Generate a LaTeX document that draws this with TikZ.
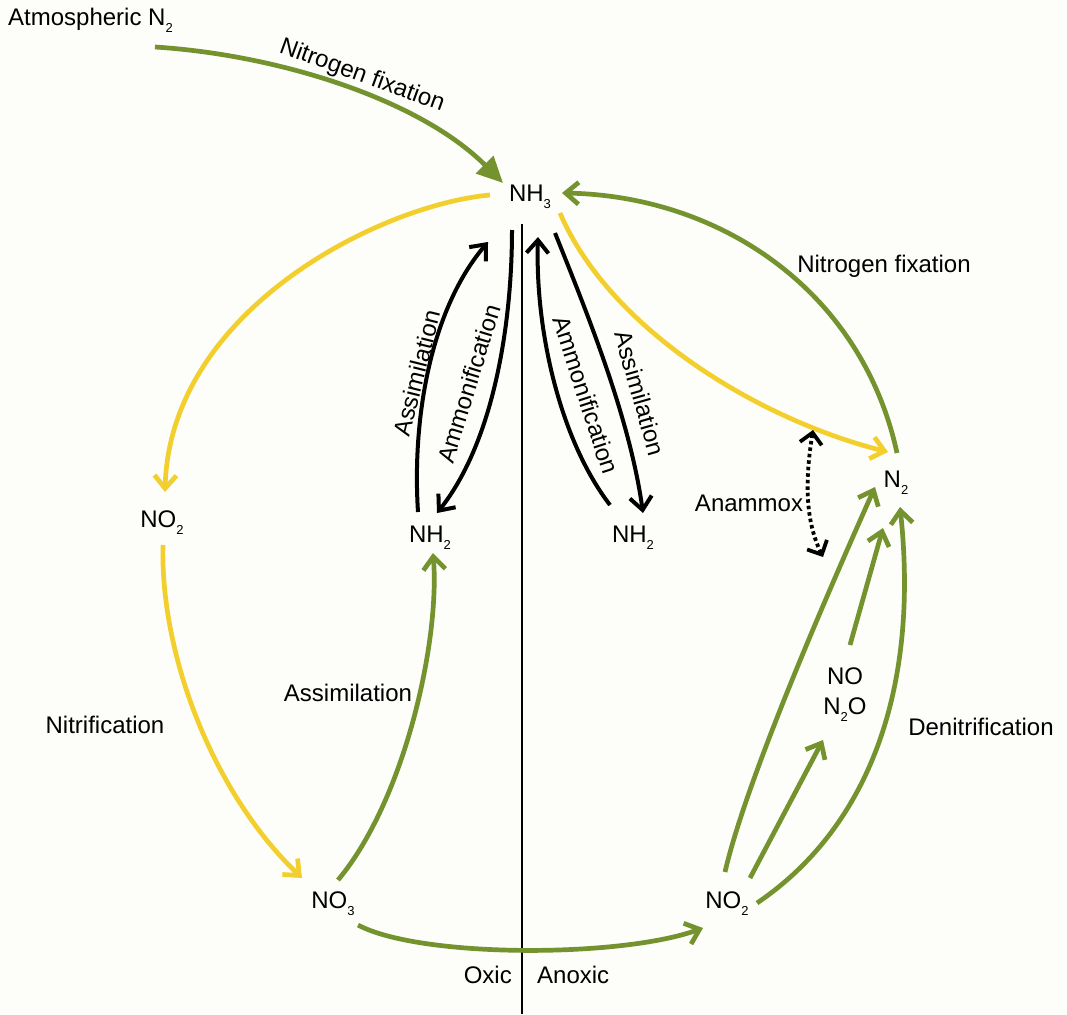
\documentclass[tikz,border=0pt]{standalone}
\usepackage{fontspec}
\setmainfont{Liberation Sans}
\usetikzlibrary{arrows.meta}
\definecolor{bg}{RGB}{253,253,249}
\definecolor{leaf}{RGB}{116,147,46}
\definecolor{sun}{RGB}{242,207,45}
\newcommand{\sbs}[1]{\raisebox{-0.3em}{\fontsize{13}{13}\selectfont #1}}
\begin{document}
\begin{tikzpicture}[x=1pt,y=-1pt,
  lbl/.style={font=\fontsize{24}{30}\selectfont, inner sep=0pt},
  barb/.style={-{Straight Barb[length=13pt,width=22pt]}},
  garrow/.style={draw=leaf, line width=4.7pt, barb},
  yarrow/.style={draw=sun, line width=4.7pt, barb},
  barrow/.style={draw=black, line width=4pt, barb},
  darrow/.style={draw=black, line width=3.8pt, dash pattern=on 3.5pt off 3pt,
     {Straight Barb[length=11pt,width=22pt]}-{Straight Barb[length=11pt,width=22pt]}},
  divider/.style={draw=black, line width=1.3pt}]
\useasboundingbox (0,0) rectangle (1067,1014);
\fill[bg] (0,0) rectangle (1067,1014);

% compounds
\node[lbl, anchor=west] (atm) at (8,20) {Atmospheric N\sbs{2}};
\node[lbl] (nh3) at (530,197) {NH\sbs{3}};
\node[lbl] (nh2l) at (430,538) {NH\sbs{2}};
\node[lbl] (nh2r) at (633,538) {NH\sbs{2}};
\node[lbl] (no2l) at (162,523) {NO\sbs{2}};
\node[lbl] (n2) at (896,483) {N\sbs{2}};
\node[lbl] (no3) at (333,904) {NO\sbs{3}};
\node[lbl] (no2r) at (727,904) {NO\sbs{2}};
\node[lbl, align=center] (nox) at (845,695) {NO\\N\sbs{2}O};

% process labels
\node[lbl, rotate=-20] (fixa) at (362,76) {Nitrogen fixation};
\node[lbl] (fixb) at (884,266) {Nitrogen fixation};
\node[lbl] (nitr) at (105,725) {Nitrification};
\node[lbl] (assim) at (348,693) {Assimilation};
\node[lbl] (denit) at (981,727) {Denitrification};
\node[lbl] (anam) at (749,503) {Anammox};
\node[lbl, anchor=east] (oxic) at (512,975) {Oxic};
\node[lbl, anchor=west] (anoxic) at (537,975) {Anoxic};
\node[lbl, rotate=76] (assimA) at (417,373) {Assimilation};
\node[lbl, rotate=73] (ammonA) at (469,384) {Ammonification};
\node[lbl, rotate=-72] (ammonB) at (586,395) {Ammonification};
\node[lbl, rotate=-74] (assimB) at (640,393) {Assimilation};

% end points
\coordinate (vtop) at (522,224);
\coordinate (vbot) at (522,1014);
\coordinate (atmS) at (155,47);   \coordinate (nh3N) at (503,183);
\coordinate (nh2lT) at (418,512); \coordinate (nh3a) at (488,242);
\coordinate (nh3b) at (512,230);  \coordinate (nh2lU) at (437,513);
\coordinate (nh2rT) at (610,505); \coordinate (nh3c) at (538,237);
\coordinate (nh3d) at (555,233);  \coordinate (nh2rU) at (643,513);
\coordinate (nh3W) at (490,195);  \coordinate (no2lT) at (165,492);
\coordinate (no2lB) at (163,545); \coordinate (no3T) at (302,878);
\coordinate (nh3E) at (560,213);  \coordinate (n2W) at (888,452);
\coordinate (n2T) at (897,453);   \coordinate (nh3R) at (562,193);
\coordinate (no3R) at (338,880);  \coordinate (nh2lB) at (433,553);
\coordinate (no3B) at (358,925);  \coordinate (no2rW) at (703,928);
\coordinate (no2a) at (725,872);  \coordinate (n2a) at (875,487);
\coordinate (no2b) at (750,878);  \coordinate (noxB) at (823,740);
\coordinate (noxT) at (850,645);  \coordinate (n2b) at (883,528);
\coordinate (no2c) at (757,903);  \coordinate (n2c) at (900,507);
\coordinate (amT) at (813,430);   \coordinate (amB) at (823,557);

% divider
\draw[divider] (vtop) -- (vbot);

% fixation from atmosphere
\draw[draw=leaf, line width=4.7pt, -{Triangle[length=26pt,width=24pt]}]
  (atmS) .. controls (280,55) and (420,100) .. (nh3N);

% black arrows
\draw[barrow] (nh2lT) .. controls (412,420) and (430,310) .. (nh3a);
\draw[barrow] (nh3b) .. controls (512,320) and (495,440) .. (nh2lU);
\draw[barrow] (nh2rT) .. controls (560,440) and (535,330) .. (nh3c);
\draw[barrow] (nh3d) .. controls (590,320) and (630,420) .. (nh2rU);

% nitrification (yellow)
\draw[yarrow] (nh3W) .. controls (380,205) and (170,310) .. (no2lT);
\draw[yarrow] (no2lB) .. controls (160,650) and (210,790) .. (no3T);
\draw[yarrow] (nh3E) .. controls (610,330) and (760,420) .. (n2W);

% green
\draw[garrow] (n2T) .. controls (862,292) and (722,196) .. (nh3R);
\draw[garrow] (no3R) .. controls (405,800) and (440,640) .. (nh2lB);
\draw[garrow] (no3B) .. controls (420,958) and (620,958) .. (no2rW);
\draw[garrow] (no2a) .. controls (745,785) and (820,610) .. (n2a);
\draw[garrow] (no2b) -- (noxB);
\draw[garrow] (noxT) -- (n2b);
\draw[garrow] (no2c) .. controls (865,830) and (920,695) .. (n2c);

% anammox
\draw[darrow] (amT) .. controls (805,480) and (805,520) .. (amB);
\end{tikzpicture}
\end{document}
